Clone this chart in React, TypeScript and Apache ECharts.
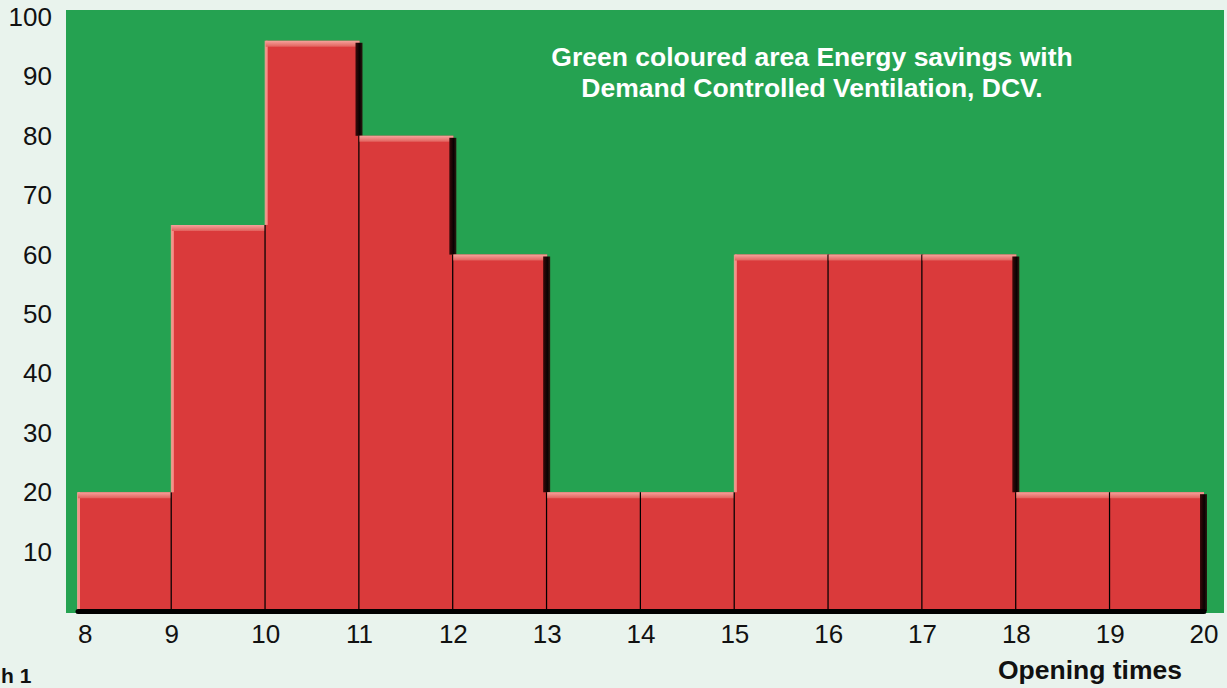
import React, { useEffect, useRef } from "react";
import * as echarts from "echarts";

const hourStarts = [8, 9, 10, 11, 12, 13, 14, 15, 16, 17, 18, 19];
const occupancy = [20, 65, 96, 80, 60, 20, 20, 60, 60, 60, 20, 20];
const xTickLabels = ["8", "9", "10", "11", "12", "13", "14", "15", "16", "17", "18", "19", "20"];
const yTickLabels = ["10", "20", "30", "40", "50", "60", "70", "80", "90", "100"];
const noteLines = ["Green coloured area Energy savings with", "Demand Controlled Ventilation, DCV."];
const xAxisTitle = "Opening times";
const figureLabel = "h 1";

const FONT = "'Liberation Sans', Arial, Helvetica, sans-serif";
const RED = "#da3a3b";
const GREEN = "#25a251";
const PAGE_BG = "#e9f3ed";

export default function App() {
  const ref = useRef<HTMLDivElement>(null);

  useEffect(() => {
    document.body.style.margin = "0";
    if (!ref.current) return;
    const chart = echarts.init(ref.current, undefined, { renderer: "svg" });
    const n = occupancy.length;

    const renderItem = (params: any, api: any) => {
      const i = params.dataIndex;
      const x0 = api.value(0);
      const x1 = api.value(1);
      const v = api.value(2);
      const prev = i > 0 ? occupancy[i - 1] : 0;
      const next = i < n - 1 ? occupancy[i + 1] : 0;
      const tl = api.coord([x0, v]);
      const br = api.coord([x1, 0]);
      const w = br[0] - tl[0];
      const h = br[1] - tl[1];
      const children: any[] = [];
      children.push({
        type: "rect",
        shape: { x: tl[0], y: tl[1], width: w, height: h },
        style: { fill: RED },
      });
      if (prev < v) {
        const yEnd = api.coord([x0, prev])[1];
        children.push({
          type: "rect",
          shape: { x: tl[0] - 1, y: tl[1], width: 3, height: yEnd - tl[1] },
          style: { fill: "rgba(250,160,150,0.85)" },
        });
      }
      children.push({
        type: "rect",
        shape: { x: tl[0], y: tl[1], width: w, height: 6 },
        style: {
          fill: new echarts.graphic.LinearGradient(0, 0, 0, 1, [
            { offset: 0, color: "#f5a39c" },
            { offset: 1, color: "#e2615d" },
          ]),
        },
      });
      if (next < v) {
        const yEnd = api.coord([x1, next])[1];
        children.push({
          type: "rect",
          shape: { x: br[0] - 4, y: tl[1] + 2, width: 7, height: yEnd - tl[1] - 2 },
          style: {
            fill: new echarts.graphic.LinearGradient(0, 0, 1, 0, [
              { offset: 0, color: "#3a0a0a" },
              { offset: 0.6, color: "#0a0202" },
              { offset: 1, color: "#2a1a10" },
            ]),
          },
        });
      }
      if (i < n - 1) {
        const yTop = api.coord([x1, Math.min(v, next)])[1];
        children.push({
          type: "line",
          shape: { x1: br[0], y1: yTop, x2: br[0], y2: br[1] },
          style: { stroke: "#000", lineWidth: 2.5 },
        });
      }
      return { type: "group", children };
    };

    chart.setOption({
      animation: false,
      backgroundColor: PAGE_BG,
      grid: { left: 78, right: 23, top: 17, bottom: 77 },
      xAxis: {
        type: "value",
        min: 8,
        max: 20,
        interval: 1,
        z: 5,
        axisLine: { show: true, lineStyle: { color: "#000", width: 5 } },
        axisTick: { show: false },
        splitLine: { show: false },
        axisLabel: {
          margin: 10,
          fontSize: 26,
          fontFamily: FONT,
          color: "#111",
          alignMinLabel: "left",
          formatter: (val: number) => xTickLabels[Math.round(val) - 8] ?? "",
        },
      },
      yAxis: {
        type: "value",
        min: 0,
        max: 100,
        interval: 10,
        axisLine: { show: false },
        axisTick: { show: false },
        splitLine: { show: false },
        axisLabel: {
          margin: 26,
          fontSize: 26,
          fontFamily: FONT,
          color: "#111",
          formatter: (val: number) => {
            const idx = Math.round(val / 10) - 1;
            return idx >= 0 ? yTickLabels[idx] : "";
          },
        },
      },
      graphic: [
        {
          type: "rect",
          z: -10,
          shape: { x: 66, y: 10, width: 1158, height: 603 },
          style: { fill: GREEN },
        },
        {
          type: "text",
          z: 100,
          x: 812,
          y: 57,
          style: {
            text: noteLines[0],
            fill: "#fff",
            font: `bold 26.5px ${FONT}`,
            textAlign: "center",
            textVerticalAlign: "middle",
          },
        },
        {
          type: "text",
          z: 100,
          x: 812,
          y: 88,
          style: {
            text: noteLines[1],
            fill: "#fff",
            font: `bold 26.5px ${FONT}`,
            textAlign: "center",
            textVerticalAlign: "middle",
          },
        },
        {
          type: "text",
          z: 100,
          x: 1090,
          y: 670,
          style: {
            text: xAxisTitle,
            fill: "#111",
            font: `bold 26.5px ${FONT}`,
            textAlign: "center",
            textVerticalAlign: "middle",
          },
        },
        {
          type: "text",
          z: 100,
          x: 1,
          y: 665,
          style: {
            text: figureLabel,
            fill: "#111",
            font: `bold 21px ${FONT}`,
            textAlign: "left",
            textVerticalAlign: "top",
          },
        },
      ],
      series: [
        {
          type: "custom",
          renderItem,
          z: 3,
          data: hourStarts.map((h, i) => [h, h + 1, occupancy[i]]),
          encode: { x: [0, 1], y: 2 },
        },
      ],
    });
    return () => chart.dispose();
  }, []);

  return (
    <div
      ref={ref}
      style={{ position: "fixed", left: 0, top: 0, width: 1227, height: 688, background: PAGE_BG }}
    />
  );
}
